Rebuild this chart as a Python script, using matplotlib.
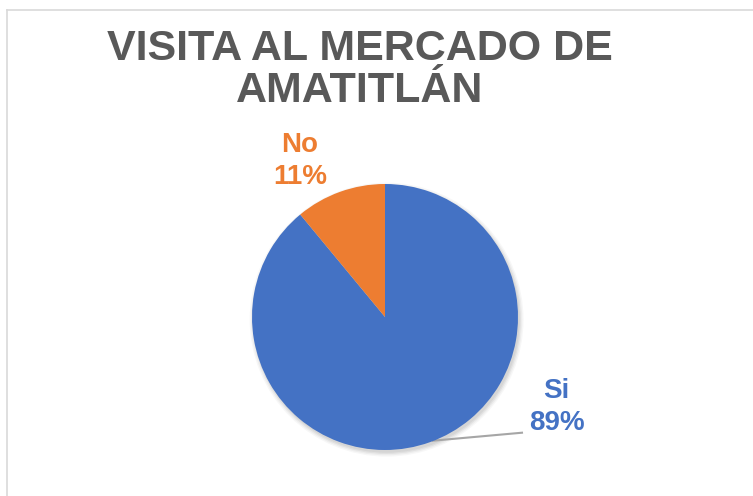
import matplotlib.pyplot as plt
from matplotlib.lines import Line2D
from matplotlib.patches import Circle

# datos
categorias = ['Si', 'No']
porcentajes = [89, 11]
colores = ['#4472C4', '#ED7D31']
titulo = 'VISITA AL MERCADO DE\nAMATITLÁN'

W, H = 753, 496
fig = plt.figure(figsize=(W / 100, H / 100), dpi=100)

# borde del area del grafico
fig.add_artist(Line2D([7 / W, 1], [1 - 10 / H, 1 - 10 / H], color='#D9D9D9', lw=1.2))
fig.add_artist(Line2D([7 / W, 7 / W], [0, 1 - 10 / H], color='#D9D9D9', lw=1.2))

fig.text(360 / W, 1 - 70 / H, titulo, ha='center', va='center', fontsize=31,
         fontweight='bold', color='#595959', family='Liberation Sans', linespacing=1.08)

# pastel
cx, cy, r = 385, 317, 133
ax = fig.add_axes([(cx - r) / W, (H - cy - r) / H, 2 * r / W, 2 * r / H])

wedges, _ = ax.pie(porcentajes, colors=colores, startangle=90, counterclock=False,
                   radius=1, wedgeprops=dict(linewidth=0))
for w in wedges:
    w.set_zorder(2)
ax.set_xlim(-1, 1)
ax.set_ylim(-1, 1)
ax.set_aspect('equal')
ax.axis('off')

# sombra suave
for i, a in enumerate([0.05, 0.05, 0.04, 0.03]):
    ax.add_patch(Circle((0.012, -0.02), 1 + 0.01 * i, color='black', alpha=a, lw=0,
                        zorder=0, clip_on=False))

# etiquetas
pos = {'Si': (1.29, -0.68), 'No': (-0.64, 1.17)}
for cat, p, c in zip(categorias, porcentajes, colores):
    x, y = pos[cat]
    ax.text(x, y, f'{cat}\n{p}%', ha='center', va='center', fontsize=20,
            fontweight='bold', color=c, family='Liberation Sans', linespacing=1.3,
            clip_on=False)

# linea guia
ax.plot([0.36, 1.03], [-0.93, -0.87], color='#A6A6A6', lw=1.5, clip_on=False, zorder=1)

fig.savefig('out.png', dpi=100)
